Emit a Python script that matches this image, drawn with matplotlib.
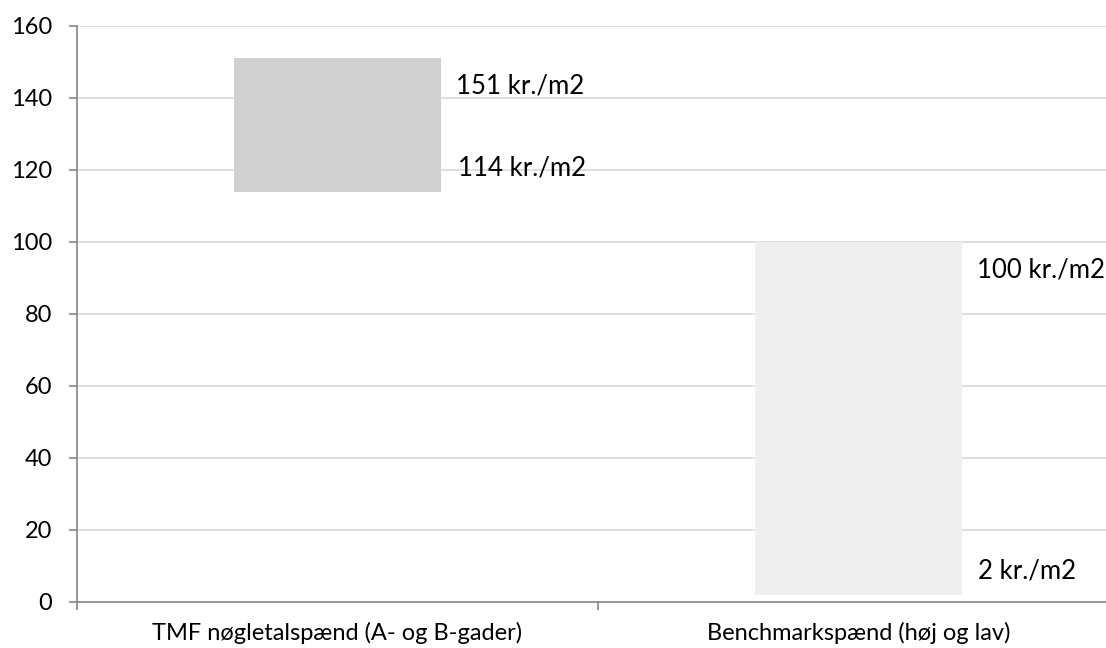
import numpy as np
import matplotlib.pyplot as plt

plt.rcParams['font.family'] = ['Lato', 'DejaVu Sans']

categories = ['TMF nøgletalspænd (A- og B-gader)', 'Benchmarkspænd (høj og lav)']
low = [114, 2]
high = [151, 100]
colors = ['#d0d0d0', '#efefef']

fig = plt.figure(figsize=(11.06, 6.48), dpi=100)
# plot area runs past the right edge, as in the cropped original
ax = fig.add_axes([0.0696, 0.071, 0.942, 0.889])

bw = 0.397
x = np.arange(len(categories))
ax.bar(x, np.array(high) - np.array(low), bottom=low, width=bw,
       color=colors, zorder=3)

for i in range(len(categories)):
    ax.annotate('%d kr./m2' % high[i], (x[i] + bw / 2, high[i]),
                xytext=(11, -20), textcoords='offset points',
                va='center', ha='left', fontsize=18.5, color='black', zorder=4)
    ax.annotate('%d kr./m2' % low[i], (x[i] + bw / 2, low[i]),
                xytext=(12, 17), textcoords='offset points',
                va='center', ha='left', fontsize=18.5, color='black', zorder=4)

ax.set_xlim(-0.5, 1.5)
ax.set_ylim(0, 160)
ax.set_yticks(range(0, 161, 20))
ax.yaxis.grid(True, color='#d9d9d9', linewidth=1.2, zorder=0)

ax.set_xticks([-0.5, 0.5, 1.5])
ax.set_xticklabels([])
ax.set_xticks(x, minor=True)
ax.set_xticklabels(categories, minor=True)
ax.tick_params(axis='x', which='minor', length=0, pad=14, labelsize=17)
ax.tick_params(axis='x', which='major', length=6, color='#868686', width=1.2)
ax.tick_params(axis='y', length=6, color='#868686', width=1.2, labelsize=17, pad=12)

for s in ['top', 'right']:
    ax.spines[s].set_visible(False)
for s in ['left', 'bottom']:
    ax.spines[s].set_color('#868686')
    ax.spines[s].set_linewidth(1.2)

fig.savefig('out.png', dpi=100)
